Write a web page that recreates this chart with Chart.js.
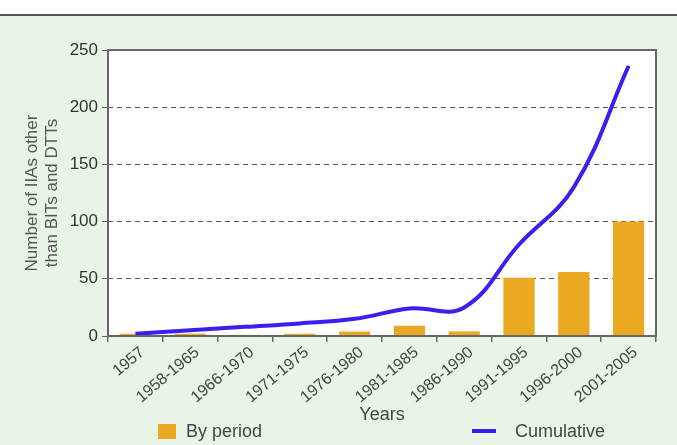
<!DOCTYPE html>
<html>
<head>
<meta charset="utf-8">
<script src="https://cdn.jsdelivr.net/npm/chart.js@4.4.0/dist/chart.umd.min.js"></script>
<style>
  html, body { margin: 0; padding: 0; }
  body { width: 677px; height: 445px; position: relative; overflow: hidden;
         background: #e8f5e6; font-family: "Liberation Sans", Arial, sans-serif; }
  .topstrip { position: absolute; left: 0; top: 0; width: 677px; height: 14px;
              background: #fff; border-bottom: 2px solid #555; }
  #wrap { position: absolute; left: 0; top: 0; width: 677px; height: 445px; }
  .legend { position: absolute; top: 420px; font-size: 18px; color: #444; line-height: 22px; }
  .legend .sw { position: absolute; }
</style>
</head>
<body>
<div class="topstrip"></div>
<div id="wrap"><canvas id="chart" width="677" height="445"></canvas></div>
<div class="legend" style="left:158px">
  <span class="sw" style="left:0;top:4px;width:18px;height:15px;background:#eaa920"></span>
  <span style="margin-left:28px">By period</span>
</div>
<div class="legend" style="left:472px">
  <span class="sw" style="left:0;top:9px;width:24px;height:4px;background:#3b1ff0"></span>
  <span style="margin-left:43px">Cumulative</span>
</div>
<script>
const periods = ['1957', '1958-1965', '1966-1970', '1971-1975', '1976-1980',
                 '1981-1985', '1986-1990', '1991-1995', '1996-2000', '2001-2005'];
const byPeriod = [2, 2, 1, 2, 4, 9, 4, 51, 56, 100];
const cumulative = [2, 5, 8, 11, 15, 24, 25, 80, 130, 236];
const yTicks = [0, 50, 100, 150, 200, 250];

// white plot background + frame around the chart area
const framePlugin = {
  id: 'frame',
  beforeDraw(chart) {
    const { ctx, chartArea: a } = chart;
    ctx.save();
    ctx.fillStyle = '#fff';
    ctx.fillRect(a.left, a.top, a.right - a.left, a.bottom - a.top);
    ctx.restore();
  },
  afterDraw(chart) {
    const { ctx, chartArea: a } = chart;
    ctx.save();
    ctx.strokeStyle = '#666';
    ctx.lineWidth = 2;
    ctx.strokeRect(a.left, a.top, a.right - a.left, a.bottom - a.top);
    ctx.restore();
  }
};

const ctx = document.getElementById('chart');
new Chart(ctx, {
  type: 'bar',
  data: {
    labels: periods,
    datasets: [{
      type: 'line',
      label: 'Cumulative',
      data: cumulative,
      borderColor: '#3b1ff0',
      borderWidth: 4,
      pointRadius: 0,
      tension: 0.4,
      order: 0
    }, {
      label: 'By period',
      data: byPeriod,
      backgroundColor: '#eaa920',
      barPercentage: 0.57,
      categoryPercentage: 1,
      order: 1
    }]
  },
  options: {
    responsive: false,
    animation: false,
    devicePixelRatio: 1,
    layout: { padding: { left: 0, top: 50, right: 21, bottom: 15 } },
    plugins: {
      legend: { display: false },
      tooltip: { enabled: false }
    },
    scales: {
      x: {
        grid: { drawOnChartArea: false, tickLength: 6, color: '#666', lineWidth: 1.5 },
        border: { display: false },
        ticks: {
          color: '#444',
          font: { family: '"Liberation Sans", Arial, sans-serif', size: 16 },
          minRotation: 40, maxRotation: 40, autoSkip: false, padding: 1, labelOffset: 7
        },
        title: {
          display: true, text: 'Years', color: '#444',
          font: { family: '"Liberation Sans", Arial, sans-serif', size: 18 },
          padding: { top: 0, bottom: 4 }
        },
        afterFit(s) { s.height = 94; }
      },
      y: {
        min: 0, max: 250,
        afterBuildTicks(s) { s.ticks = yTicks.map(v => ({ value: v })); },
        grid: {
          tickLength: 6,
          color: c => (c.tick.value === 0 || c.tick.value === 250) ? 'rgba(0,0,0,0)' : '#555',
          tickColor: '#666',
          lineWidth: 1
        },
        border: { display: false, dash: [5, 4] },
        ticks: {
          color: '#333', padding: 4,
          font: { family: '"Liberation Sans", Arial, sans-serif', size: 17 }
        },
        title: {
          display: true, text: ['Number of IIAs other', 'than BITs and DTTs'], color: '#555',
          font: { family: '"Liberation Sans", Arial, sans-serif', size: 17, lineHeight: 1.2 },
          padding: { top: 22, bottom: 0 }
        },
        afterFit(s) { s.width = 108; }
      }
    }
  },
  plugins: [framePlugin]
});
</script>
</body>
</html>
